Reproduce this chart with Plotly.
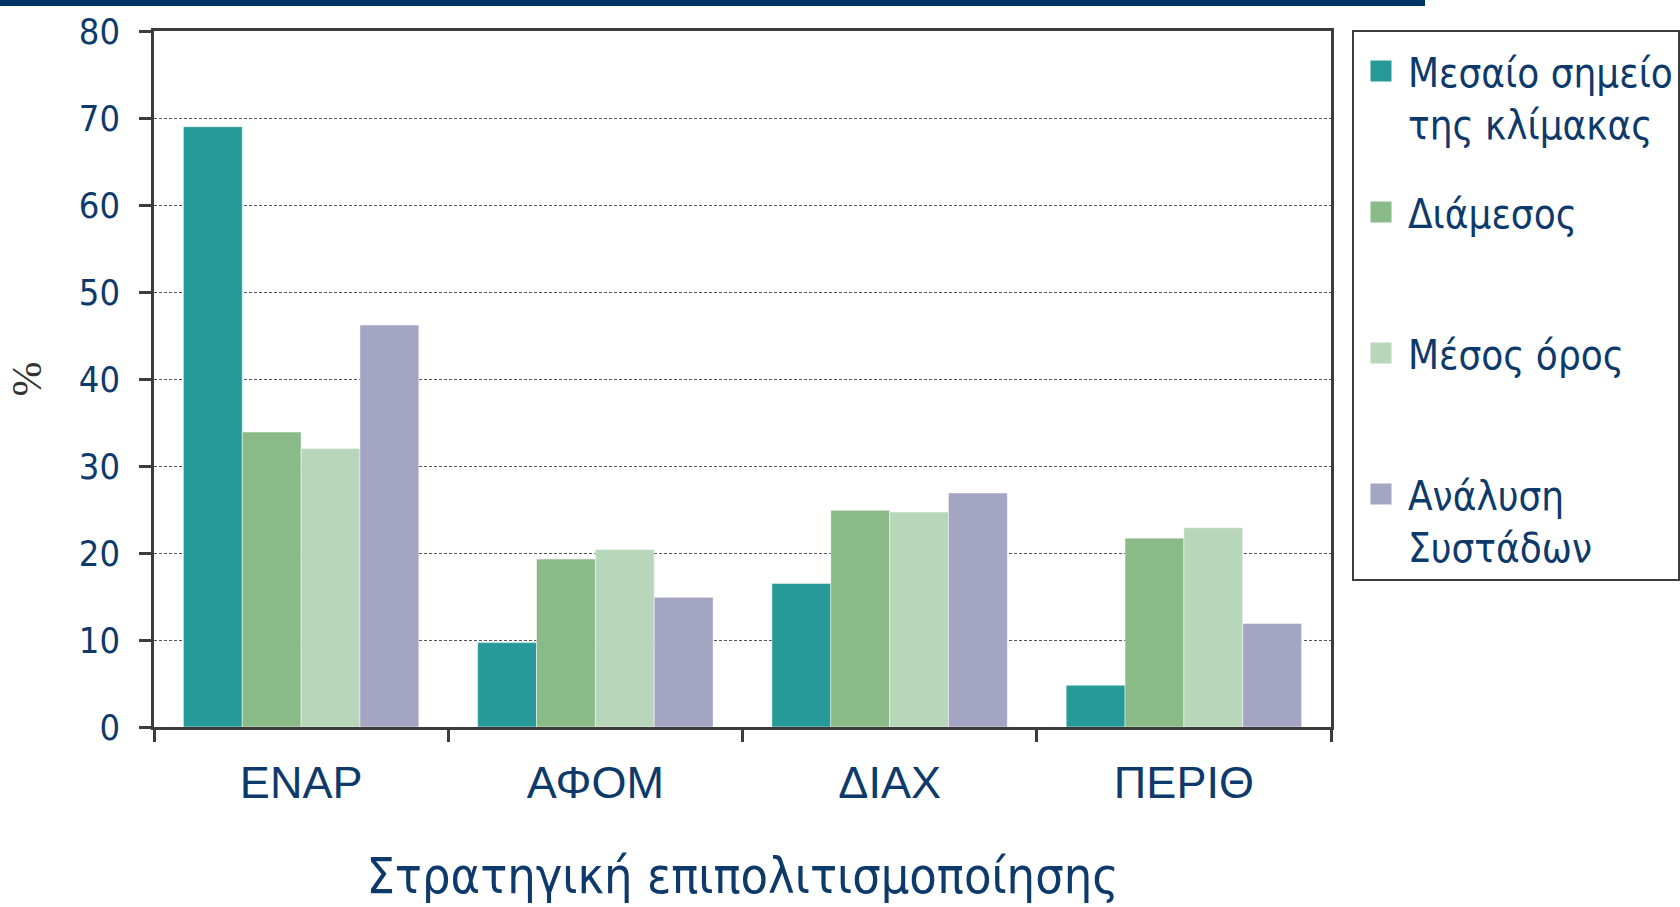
import plotly.graph_objects as go

categories = ["ΕΝΑΡ", "ΑΦΟΜ", "ΔΙΑΧ", "ΠΕΡΙΘ"]
series_names = ["Μεσαίο σημείο<br>της κλίμακας", "Διάμεσος<br> ", "Μέσος όρος<br> ", "Ανάλυση<br>Συστάδων"]
midpoint = [69.0, 9.7, 16.5, 4.8]
median = [33.9, 19.3, 24.9, 21.7]
mean = [32.0, 20.4, 24.7, 22.9]
cluster = [46.2, 14.9, 26.9, 11.9]
colors = ["#269A98", "#8BBA89", "#B8D6BA", "#A4A5C3"]
y_ticks = [0, 10, 20, 30, 40, 50, 60, 70, 80]
x_title = "Στρατηγική επιπολιτισμοποίησης"

NARROW = "DejaVu Sans Condensed, Liberation Sans Narrow, sans-serif"
NAVY = "#0E3A6B"
AX = "#3C3C3C"

fig = go.Figure()
for i, (name, vals, col) in enumerate(zip(series_names, [midpoint, median, mean, cluster], colors)):
    fig.add_trace(go.Bar(
        x=categories, y=vals, name=name, legendgroup=f"g{i}", showlegend=False,
        marker=dict(color=col, line=dict(color="rgba(255,255,255,0.45)", width=1)),
    ))
    # legend entry (larger square swatch)
    fig.add_trace(go.Scatter(
        x=[None], y=[None], mode="markers", name=name, legendgroup=f"g{i}",
        marker=dict(symbol="square", size=16, color=col, line=dict(color=col, width=5)),
        hoverinfo="skip",
    ))

W, H = 1680, 907
L, R, T, B = 154, 1331, 31, 727

def px_x(x):
    return (x - L) / (R - L)

def px_y(y):
    return (B - y) / (B - T)

fig.update_layout(
    width=W, height=H, autosize=False,
    margin=dict(l=L, r=W - R, t=T, b=H - B, autoexpand=False),
    paper_bgcolor="white", plot_bgcolor="white",
    barmode="group", bargap=0.2, bargroupgap=0,
    font=dict(family=NARROW, color=NAVY),
    legend=dict(
        x=px_x(1352), y=px_y(30), xanchor="left", yanchor="top",
        bordercolor=AX, borderwidth=2, bgcolor="white",
        font=dict(family=NARROW, size=40, color=NAVY),
        title=dict(text=" ", font=dict(size=5)),
        tracegroupgap=34, valign="top", traceorder="grouped",
        itemwidth=44, maxheight=800,
    ),
    xaxis=dict(
        type="category", tickson="boundaries", ticks="outside", ticklen=12,
        tickwidth=2.5, tickcolor=AX, showline=True, linewidth=2.5, linecolor=AX,
        mirror=True, showgrid=False, automargin=False, ticklabelstandoff=14,
        tickfont=dict(family="Liberation Sans, Arial, sans-serif", size=45, color=NAVY),
        title=dict(text=x_title,
                   font=dict(family=NARROW, size=50, color=NAVY), standoff=52),
    ),
    yaxis=dict(
        range=[0, 80], tickvals=y_ticks, ticks="outside", ticklen=12,
        tickwidth=2.5, tickcolor=AX, showline=True, linewidth=2.5, linecolor=AX,
        mirror=True, showgrid=True, gridcolor="#555555", gridwidth=1,
        griddash="3px,2px", zeroline=False, automargin=False, ticklabelstandoff=12,
        tickfont=dict(family=NARROW, size=36, color=NAVY),
        title=dict(text="%", font=dict(family="Liberation Serif, Times New Roman, serif",
                                       size=42, color="#333333"), standoff=25),
    ),
    shapes=[dict(type="rect", xref="paper", yref="paper",
                 x0=px_x(0), x1=px_x(1425), y0=px_y(6), y1=px_y(-2),
                 fillcolor="#003366", line=dict(width=0), layer="above")],
)

fig.write_html("out.html", config={"displayModeBar": False},
               post_script="document.body.style.margin='0';document.body.style.overflow='hidden';")
